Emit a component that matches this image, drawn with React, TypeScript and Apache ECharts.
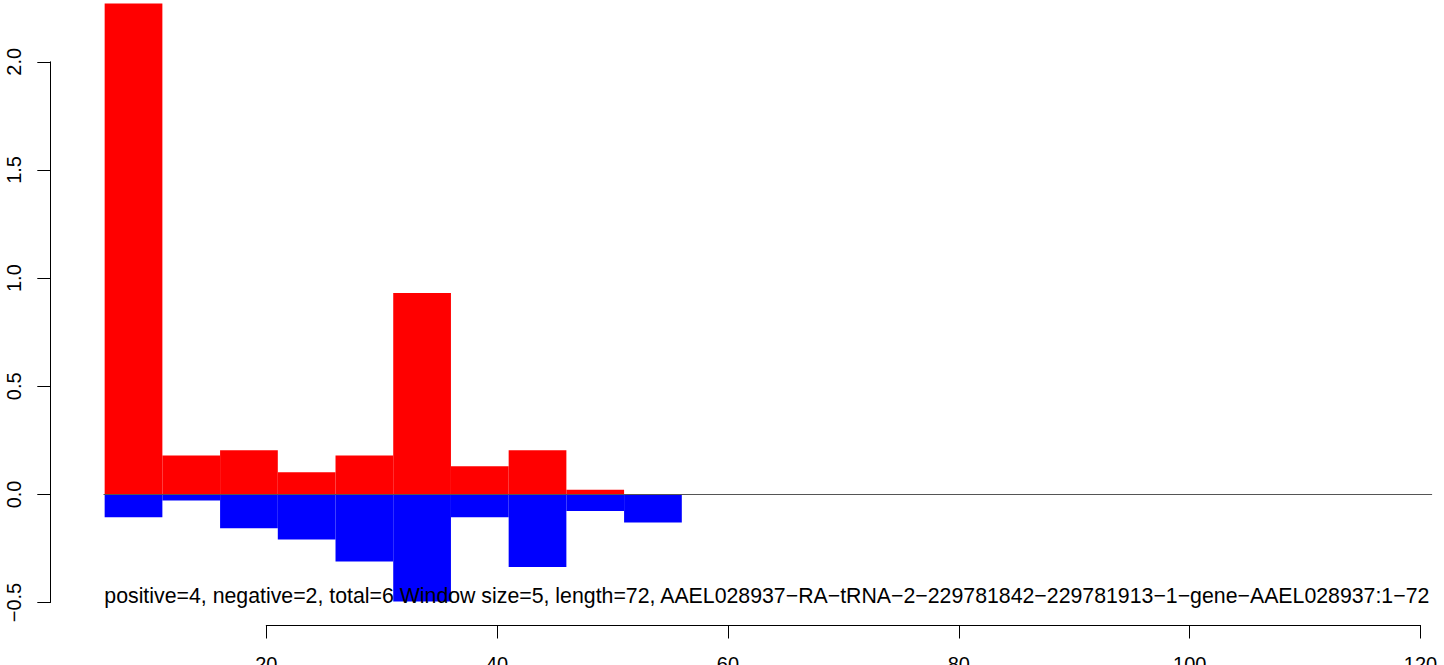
import React, { useEffect, useRef } from "react";
import * as echarts from "echarts";

// Window start positions (each window is 5 wide)
const windowStarts = [6, 11, 16, 21, 26, 31, 36, 41, 46, 51];
const windowSize = 5;
// Positive-strand values (red) and negative-strand values (blue)
const positiveValues = [2.27, 0.18, 0.204, 0.102, 0.18, 0.931, 0.13, 0.204, 0.022, 0];
const negativeValues = [-0.106, -0.028, -0.157, -0.208, -0.31, -0.495, -0.106, -0.336, -0.077, -0.13];
// Axis ticks
const xTicks = [20, 40, 60, 80, 100, 120];
const yTicks = [-0.5, 0, 0.5, 1.0, 1.5, 2.0];
const annotation =
  "positive=4, negative=2, total=6 Window size=5, length=72, AAEL028937\u2212RA\u2212tRNA\u22122\u2212229781842\u2212229781913\u22121\u2212gene\u2212AAEL028937:1\u221272";

const FONT = "'Liberation Sans', Arial, Helvetica, sans-serif";

// pixel mapping: x=0 at 35.4, 11.543 px per unit ; y=0 at 494.4, 216.3 px per unit
const PX0 = 35.4;
const KX = 11.543;
const PY0 = 494.4;
const KY = 216.3;
const MAIN_XMIN = 5.9;
const MAIN_XMAX = 121.0;
const MAIN_YMIN = -0.7;
const MAIN_YMAX = PY0 / KY;

export default function App() {
  const ref = useRef<HTMLDivElement>(null);
  useEffect(() => {
    if (!ref.current) return;
    const chart = echarts.init(ref.current, null, { renderer: "svg" });

    const barRender = (color: string) => (params: any, api: any) => {
      const x0 = api.value(0);
      const v = api.value(1);
      const p1 = api.coord([x0, v]);
      const p2 = api.coord([x0 + windowSize, 0]);
      return {
        type: "rect",
        shape: {
          x: p1[0],
          y: Math.min(p1[1], p2[1]),
          width: p2[0] - p1[0],
          height: Math.abs(p2[1] - p1[1]),
        },
        style: { fill: color },
      };
    };

    const fmt = (v: number) => v.toFixed(1).replace("-", "\u2212");

    chart.setOption({
      animation: false,
      backgroundColor: "#ffffff",
      grid: [
        {
          left: PX0 + MAIN_XMIN * KX,
          width: (MAIN_XMAX - MAIN_XMIN) * KX,
          top: 0,
          height: (MAIN_YMAX - MAIN_YMIN) * KY,
          outerBoundsMode: "none",
        },
        {
          left: PX0 + xTicks[0] * KX,
          width: (xTicks[xTicks.length - 1] - xTicks[0]) * KX,
          top: 600,
          height: 25.5,
          outerBoundsMode: "none",
        },
        {
          left: 50.3,
          width: 10,
          top: PY0 - yTicks[yTicks.length - 1] * KY,
          height: (yTicks[yTicks.length - 1] - yTicks[0]) * KY,
          outerBoundsMode: "none",
        },
      ],
      xAxis: [
        { gridIndex: 0, type: "value", min: MAIN_XMIN, max: MAIN_XMAX, show: false },
        {
          gridIndex: 1,
          type: "value",
          min: xTicks[0],
          max: xTicks[xTicks.length - 1],
          interval: 20,
          position: "bottom",
          axisLine: { show: true, lineStyle: { color: "#000", width: 1 } },
          axisTick: { show: true, length: 13, lineStyle: { color: "#000", width: 1 } },
          axisLabel: { show: true, color: "#000", fontSize: 20, fontFamily: FONT, margin: 28 },
          splitLine: { show: false },
        },
        { gridIndex: 2, type: "value", min: 0, max: 1, show: false },
      ],
      yAxis: [
        { gridIndex: 0, type: "value", min: MAIN_YMIN, max: MAIN_YMAX, show: false },
        { gridIndex: 1, type: "value", min: 0, max: 1, show: false },
        {
          gridIndex: 2,
          type: "value",
          min: yTicks[0],
          max: yTicks[yTicks.length - 1],
          interval: 0.5,
          position: "left",
          axisLine: { show: true, lineStyle: { color: "#000", width: 1 } },
          axisTick: { show: true, length: 13, lineStyle: { color: "#000", width: 1 } },
          axisLabel: {
            show: true,
            color: "#000",
            fontSize: 20,
            fontFamily: FONT,
            rotate: 90,
            margin: 26,
            formatter: fmt,
          },
          splitLine: { show: false },
        },
      ],
      series: [
        {
          type: "line",
          xAxisIndex: 0,
          yAxisIndex: 0,
          data: [],
          z: 1,
          markLine: {
            silent: true,
            symbol: ["none", "none"],
            label: { show: false },
            lineStyle: { color: "#555555", width: 1, type: "solid" },
            data: [{ yAxis: 0 }],
          },
        },
        {
          type: "custom",
          xAxisIndex: 0,
          yAxisIndex: 0,
          z: 2,
          renderItem: barRender("#ff0000"),
          data: windowStarts.map((s, i) => [s, positiveValues[i]]),
        },
        {
          type: "custom",
          xAxisIndex: 0,
          yAxisIndex: 0,
          z: 2,
          renderItem: barRender("#0000ff"),
          data: windowStarts.map((s, i) => [s, negativeValues[i]]),
        },
      ],
      graphic: [
        {
          type: "text",
          x: 104.3,
          y: 596,
          z: 10,
          style: {
            text: annotation,
            fill: "#000",
            font: `21.3px ${FONT}`,
            verticalAlign: "middle",
            align: "left",
          },
        },
      ],
    });
    return () => chart.dispose();
  }, []);
  return (
    <div
      ref={ref}
      style={{ position: "fixed", left: 0, top: 0, width: 1444, height: 665, background: "#fff" }}
    />
  );
}
